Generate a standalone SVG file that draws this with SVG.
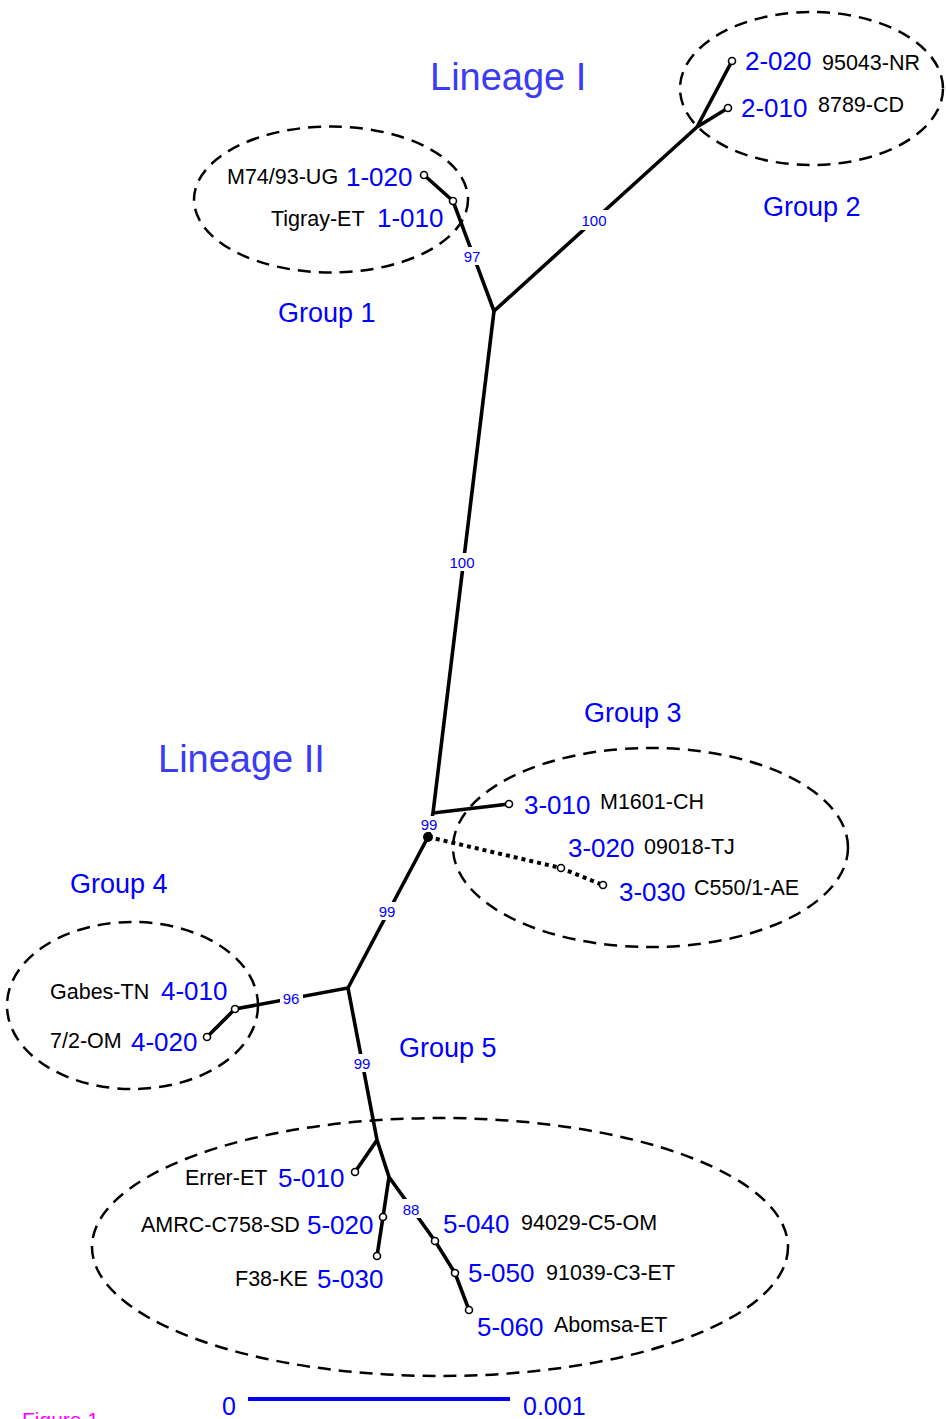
<svg xmlns="http://www.w3.org/2000/svg" width="946" height="1419" viewBox="0 0 946 1419">
<style>
.e{stroke:#000;stroke-width:3.6;fill:none;stroke-linecap:round}
.dot{stroke:#000;stroke-width:4;fill:none;stroke-dasharray:4 4}
.grp{fill:none;stroke:#000;stroke-width:2.5;stroke-dasharray:13 8}
.leaf{fill:#fff;stroke:#000;stroke-width:1.6}
.id{font-family:"Liberation Sans",Arial,sans-serif;font-size:26px;fill:#0000ff}
.nm{font-family:"Liberation Sans",Arial,sans-serif;font-size:21.5px;fill:#000}
.gl{font-family:"Liberation Sans",Arial,sans-serif;font-size:27px;fill:#0000ff}
.ln{font-family:"Liberation Sans",Arial,sans-serif;font-size:38px;fill:#3b3bf5}
.bs{font-family:"Liberation Sans",Arial,sans-serif;font-size:15px;fill:#0000ff;text-anchor:middle}
.bg{fill:#fff}
</style>

<g id="connectors">
  <path class="e" d="M494 311 L453 201 L424 175"/>
  <path class="e" d="M494 311 L697 127 L732 61 M697 127 L728 108"/>
  <path class="e" d="M494 311 L433 813 L509 804 M433 813 L428 837 L348 988 L235 1009 L207 1037"/>
  <path class="e" d="M348 988 L377 1140 L355 1172 M377 1140 L389 1177 L383 1217 L377 1256 M389 1177 L435 1241 L455 1273 L469 1310"/>
  <path class="dot" d="M428 837 L561 868 L603 885"/>
  <rect class="bg" x="460" y="247" width="24" height="18"/>
  <text class="bs" x="472" y="262">97</text>
  <rect class="bg" x="578" y="210" width="32" height="20"/>
  <text class="bs" x="594" y="226">100</text>
  <rect class="bg" x="446" y="553" width="32" height="18"/>
  <text class="bs" x="462" y="568">100</text>
  <rect class="bg" x="419" y="816" width="22" height="16"/>
  <text class="bs" x="429" y="830">99</text>
  <rect class="bg" x="376" y="902" width="23" height="18"/>
  <text class="bs" x="387" y="917">99</text>
  <rect class="bg" x="280" y="989" width="23" height="18"/>
  <text class="bs" x="291" y="1004">96</text>
  <rect class="bg" x="351" y="1054" width="23" height="18"/>
  <text class="bs" x="362" y="1069">99</text>
  <rect class="bg" x="400" y="1199" width="23" height="19"/>
  <text class="bs" x="411" y="1215">88</text>
</g>

<g id="internal-nodes">
  <circle id="node-D" cx="428" cy="837" r="5" fill="#000"/>
</g>

<g id="group1">
  <ellipse class="grp" cx="331" cy="199.5" rx="137" ry="73"/>
  <text class="gl" x="278" y="322">Group 1</text>
</g>
<g id="leaf-1-020"><circle class="leaf" cx="424" cy="175" r="3.5"/><text class="nm" x="227" y="184">M74/93-UG</text><text class="id" x="346" y="186">1-020</text></g>
<g id="leaf-1-010"><circle class="leaf" cx="453" cy="201" r="3.5"/><text class="nm" x="271" y="226">Tigray-ET</text><text class="id" x="377" y="227">1-010</text></g>

<g id="group2">
  <ellipse class="grp" cx="811.5" cy="88.5" rx="131.5" ry="76.5"/>
  <text class="gl" x="763" y="216">Group 2</text>
</g>
<g id="leaf-2-020"><circle class="leaf" cx="732" cy="61" r="3.5"/><text class="id" x="745" y="70">2-020</text><text class="nm" x="822" y="70">95043-NR</text></g>
<g id="leaf-2-010"><circle class="leaf" cx="728" cy="108" r="3.5"/><text class="id" x="741" y="117">2-010</text><text class="nm" x="818" y="112">8789-CD</text></g>

<g id="group3">
  <ellipse class="grp" cx="650.5" cy="847.5" rx="197.5" ry="99.5"/>
  <text class="gl" x="584" y="722">Group 3</text>
</g>
<g id="leaf-3-010"><circle class="leaf" cx="509" cy="804" r="3.5"/><text class="id" x="524" y="814">3-010</text><text class="nm" x="600" y="809">M1601-CH</text></g>
<g id="leaf-3-020"><circle class="leaf" cx="561" cy="868" r="3.5"/><text class="id" x="568" y="857">3-020</text><text class="nm" x="644" y="854">09018-TJ</text></g>
<g id="leaf-3-030"><circle class="leaf" cx="603" cy="885" r="3.5"/><text class="id" x="619" y="901">3-030</text><text class="nm" x="694" y="895">C550/1-AE</text></g>

<g id="group4">
  <ellipse class="grp" cx="132.5" cy="1005.5" rx="125.5" ry="83.5"/>
  <text class="gl" x="70" y="893">Group 4</text>
</g>
<g id="leaf-4-010"><circle class="leaf" cx="235" cy="1009" r="3.5"/><text class="nm" x="50" y="999">Gabes-TN</text><text class="id" x="161" y="1000">4-010</text></g>
<g id="leaf-4-020"><circle class="leaf" cx="207" cy="1037" r="3.5"/><text class="nm" x="50" y="1048">7/2-OM</text><text class="id" x="131" y="1051">4-020</text></g>

<g id="group5">
  <ellipse class="grp" cx="440" cy="1247" rx="348" ry="129"/>
  <text class="gl" x="399" y="1057">Group 5</text>
</g>
<g id="leaf-5-010"><circle class="leaf" cx="355" cy="1172" r="3.5"/><text class="nm" x="185" y="1185">Errer-ET</text><text class="id" x="278" y="1187">5-010</text></g>
<g id="leaf-5-020"><circle class="leaf" cx="383" cy="1217" r="3.5"/><text class="nm" x="141" y="1232">AMRC-C758-SD</text><text class="id" x="307" y="1234">5-020</text></g>
<g id="leaf-5-030"><circle class="leaf" cx="377" cy="1256" r="3.5"/><text class="nm" x="235" y="1286">F38-KE</text><text class="id" x="317" y="1288">5-030</text></g>
<g id="leaf-5-040"><circle class="leaf" cx="435" cy="1241" r="3.5"/><text class="id" x="443" y="1233">5-040</text><text class="nm" x="521" y="1230">94029-C5-OM</text></g>
<g id="leaf-5-050"><circle class="leaf" cx="455" cy="1273" r="3.5"/><text class="id" x="468" y="1282">5-050</text><text class="nm" x="546" y="1280">91039-C3-ET</text></g>
<g id="leaf-5-060"><circle class="leaf" cx="469" cy="1310" r="3.5"/><text class="id" x="477" y="1336">5-060</text><text class="nm" x="554" y="1332">Abomsa-ET</text></g>

<g id="lineages">
  <text class="ln" x="430" y="90">Lineage I</text>
  <text class="ln" x="158" y="772">Lineage II</text>
</g>

<g id="scale-bar">
  <line x1="248" y1="1399" x2="510" y2="1399" stroke="#0000ff" stroke-width="4"/>
  <text class="id" x="222" y="1415" style="font-size:25px">0</text>
  <text class="id" x="523" y="1415" style="font-size:25px">0.001</text>
</g>

<text x="22" y="1427" font-family="Liberation Sans, Arial, sans-serif" font-size="21" fill="#ff00ff">Figure 1</text>
</svg>
